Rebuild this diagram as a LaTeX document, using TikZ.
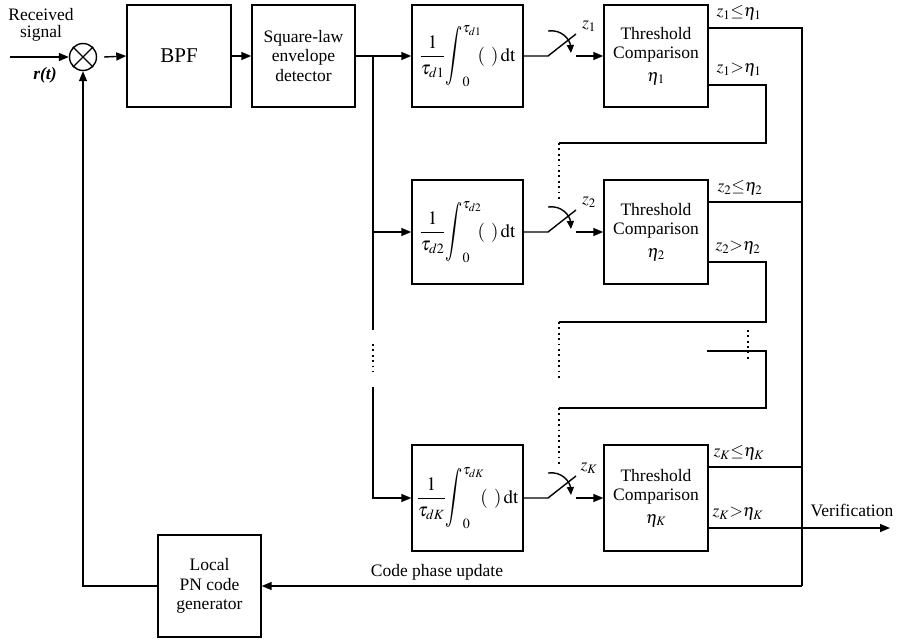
\documentclass[tikz,border=0pt]{standalone}
\usepackage{mathptmx}
\usepackage{fontspec}
\setmainfont{Liberation Serif}
\usepackage{graphicx}
\usetikzlibrary{arrows.meta}
\newcommand{\integ}[1]{$\displaystyle\frac{1}{\tau_{#1}}\mkern-2mu\mathop{\vcenter{\hbox{\scalebox{1}[1.55]{$\displaystyle\int$}}}}\nolimits_{0}^{\tau_{#1}}\mkern-4mu(\;\,)\,\mathrm{dt}$}
\tikzset{
 blk/.style={draw, line width=1.4pt, minimum width=104pt, minimum height=102pt, align=center, inner sep=0pt},
 intg/.style={blk, minimum width=111pt, font=\fontsize{19}{21}\selectfont},
 wire/.style={line width=1.4pt},
 arr/.style={wire, -{Triangle[length=10pt,width=8pt]}},
 swarr/.style={wire, -{Triangle[length=8pt,width=7pt]}},
 dotline/.style={line width=1.8pt, dash pattern=on 1.8pt off 3.6pt},
 lbl/.style={inner sep=0pt, align=center},
}
\newcommand{\thr}[1]{Threshold\\Comparison\\[3pt]$\eta_{#1}$}
\begin{document}
\begin{tikzpicture}[x=1pt,y=-1pt, font=\fontsize{17.5}{19.5}\selectfont]
\useasboundingbox (0,0) rectangle (901,639);
% input and mixer
\node[draw, circle, wire, minimum size=27pt, inner sep=0pt] (mix) at (83,57) {};
\draw[wire] (mix.north west) -- (mix.south east) (mix.north east) -- (mix.south west);
\node[lbl, font=\fontsize{17.5}{17}\selectfont] (rs) at (41,25) {Received\\signal};
\node[lbl] (rt) at (45,75) {\textbf{\textit{r(t)}}};
\coordinate (in) at (10,57);
\draw[arr] (in) -- (mix.west);
% blocks
\node[blk, font=\fontsize{21}{24}\selectfont] (bpf) at (179,56) {BPF};
\node[blk, minimum width=103pt] (sq) at (303.5,56) {Square-law\\envelope\\detector};
\node[intg] (i1) at (467.5,56) {\integ{d1}};
\node[blk] (t1) at (656,56) {\thr{1}};
\node[intg, minimum height=104pt] (i2) at (467.5,232) {\integ{d2}};
\node[blk, minimum height=104pt] (t2) at (656,232) {\thr{2}};
\node[intg, minimum height=106pt] (iK) at (467.5,498) {\integ{dK}};
\node[blk, minimum height=106pt] (tK) at (656,498) {\thr{K}};
\node[blk, minimum width=103pt] (pn) at (209.5,586) {Local\\PN code\\generator};
% forward path
\draw[arr] ([xshift=7pt]mix.east) -- (bpf.west);
\draw[arr] (bpf) -- (sq);
\draw[arr] (sq.east) -- (i1.west);
\coordinate (br) at (373,56);
\draw[wire] (br) -- (373,330);
\draw[dotline] (373,344) -- (373,372);
\draw[arr] (373,387) -- (br |- iK.west) -- (iK.west);
\draw[arr] (br |- i2.west) -- (i2.west);
% switches
\foreach \r/\y in {1/56,2/232,K/498}{
  \coordinate (sw\r) at (548,\y);
  \draw[wire] (i\r.east) -- (sw\r) -- ++(28,-22);
  \draw[swarr] (548,\y-25) .. controls (562,\y-27) and (570,\y-16) .. (571,\y-3);
  \draw[arr] (576,\y) -- (t\r.west);
  \node[lbl] (z\r) at (589,\y-30) {$z_{\r}$};
}
% outputs
\draw[wire] (t1.east |- 0,28) -- (802,28) -- (802,586) coordinate (cr);
\draw[arr] (cr) -- (pn.east);
\draw[wire] (t2.east |- 0,202) -- (802,202);
\draw[wire] (tK.east |- 0,467) -- (802,467);
\draw[wire] (t1.east |- 0,85) -- (766,85) -- (766,143) -- (559,143);
\draw[dotline] (559,143) -- (559,202);
\draw[wire] (t2.east |- 0,262) -- (766,262) -- (766,322) -- (559,322);
\draw[dotline] (559,322) -- (559,378);
\draw[dotline] (748,330) -- (748,362);
\draw[wire] (707,351) -- (766,351) -- (766,408) -- (559,408);
\draw[dotline] (559,408) -- (559,467);
\draw[arr] (tK.east |- 0,528) -- (890,528) coordinate (ver);
\node[lbl] (vl) at (852,510) {Verification};
\draw[arr] (pn.west) -| (mix.south);
% labels
\node[lbl] (l1a) at (739,13) {$z_1{\le}\eta_1$};
\node[lbl] (l1b) at (739,70) {$z_1{>}\eta_1$};
\node[lbl] (l2a) at (740,188) {$z_2{\le}\eta_2$};
\node[lbl] (l2b) at (738,248) {$z_2{>}\eta_2$};
\node[lbl] (lKa) at (739,453) {$z_K{\le}\eta_K$};
\node[lbl] (lKb) at (738,514) {$z_K{>}\eta_K$};
\node[lbl] (cpu) at (437,572) {Code phase update};
\end{tikzpicture}
\end{document}
